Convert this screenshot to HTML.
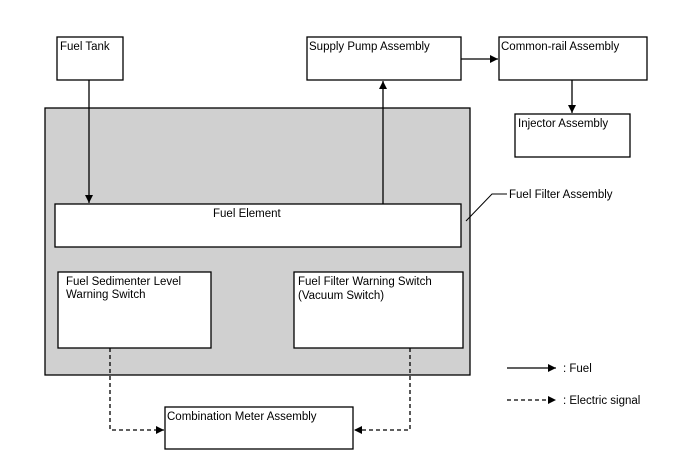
<!DOCTYPE html>
<html><head><meta charset="utf-8"><style>
body{margin:0;background:#fff}
svg text{font-family:"Liberation Sans",Arial,sans-serif;font-size:11.5px;fill:#000}
</style></head><body>
<svg width="688" height="463" viewBox="0 0 688 463" xmlns="http://www.w3.org/2000/svg">
<defs>
<marker id="a" viewBox="0 0 10 10" refX="10" refY="5" markerWidth="12" markerHeight="8" markerUnits="userSpaceOnUse" orient="auto"><path d="M0,0L10,5L0,10z" fill="#000"/></marker>
</defs>
<g stroke="#000" stroke-width="1.3" fill="#fff">
<rect x="45" y="108" width="425" height="267" fill="#d0d0d0"/>
<rect x="57" y="37" width="66" height="43"/>
<rect x="307" y="37" width="154" height="43"/>
<rect x="499" y="37" width="148" height="43"/>
<rect x="515" y="114" width="115" height="43"/>
<rect x="55" y="204" width="406" height="43"/>
<rect x="58" y="272" width="153" height="76"/>
<rect x="294" y="272" width="169" height="76"/>
<rect x="165" y="407" width="188" height="42"/>
</g>
<g stroke="#000" stroke-width="1.3" fill="none">
<line x1="89" y1="80" x2="89" y2="203" marker-end="url(#a)"/>
<line x1="383" y1="204" x2="383" y2="81" marker-end="url(#a)"/>
<line x1="461" y1="59" x2="498" y2="59" marker-end="url(#a)"/>
<line x1="572" y1="80" x2="572" y2="113" marker-end="url(#a)"/>
<polyline points="466,221 492,194 507,194" stroke-width="1"/>
<line x1="507" y1="368" x2="556" y2="368" marker-end="url(#a)"/>
<g stroke-dasharray="4,3">
<polyline points="110,348 110,430 164,430" marker-end="url(#a)"/>
<polyline points="410,348 410,430 354,430" marker-end="url(#a)"/>
<line x1="507" y1="400" x2="556" y2="400" marker-end="url(#a)"/>
</g>
</g>
<text x="60" y="50">Fuel Tank</text>
<text x="309" y="50">Supply Pump Assembly</text>
<text x="501" y="50">Common-rail Assembly</text>
<text x="518" y="127">Injector Assembly</text>
<text x="213" y="217">Fuel Element</text>
<text x="509" y="198">Fuel Filter Assembly</text>
<text x="66" y="285">Fuel Sedimenter Level</text>
<text x="66" y="298">Warning Switch</text>
<text x="298" y="285">Fuel Filter Warning Switch</text>
<text x="298" y="299">(Vacuum Switch)</text>
<text x="167" y="420">Combination Meter Assembly</text>
<text x="563" y="372">: Fuel</text>
<text x="563" y="404">: Electric signal</text>
</svg>
</body></html>
